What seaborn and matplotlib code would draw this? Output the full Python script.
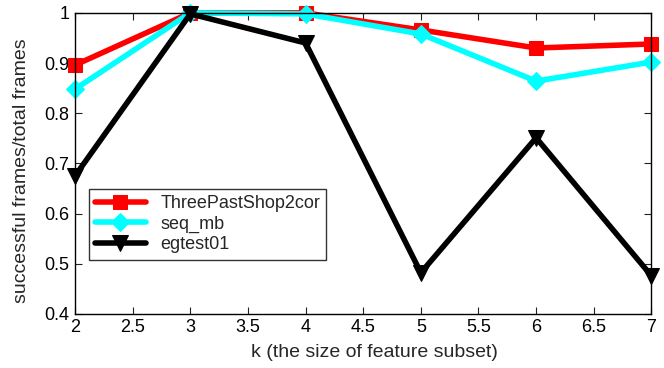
import matplotlib
matplotlib.use("Agg")
import matplotlib.pyplot as plt
import seaborn as sns
import pandas as pd

k = [2, 3, 4, 5, 6, 7]
three_past = [0.896, 1.0, 1.0, 0.966, 0.930, 0.938]
seq_mb = [0.848, 1.0, 0.998, 0.958, 0.864, 0.902]
egtest01 = [0.675, 0.998, 0.940, 0.482, 0.751, 0.476]
series_names = ["ThreePastShop2cor", "seq_mb", "egtest01"]

sns.set_style("white")
plt.rcParams['font.family'] = ['Liberation Sans', 'DejaVu Sans']

fig = plt.figure(figsize=(6.64, 3.68), dpi=100)
ax = fig.add_axes([0.113, 0.147, 0.868, 0.818])

styles = [("red", "s", 10), ("cyan", "D", 9), ("black", "v", 12)]
for name, vals, (c, m, ms) in zip(series_names, [three_past, seq_mb, egtest01], styles):
    df = pd.DataFrame({"k": k, "v": vals})
    sns.lineplot(data=df, x="k", y="v", ax=ax, color=c, marker=m, markersize=ms,
                 markeredgecolor=c, linewidth=4, label=name, clip_on=False)

ax.set_xlim(2, 7)
ax.set_ylim(0.4, 1.0)
ax.set_xticks([2, 2.5, 3, 3.5, 4, 4.5, 5, 5.5, 6, 6.5, 7])
ax.set_xticklabels(["2", "2.5", "3", "3.5", "4", "4.5", "5", "5.5", "6", "6.5", "7"])
ax.set_yticks([0.4, 0.5, 0.6, 0.7, 0.8, 0.9, 1.0])
ax.set_yticklabels(["0.4", "0.5", "0.6", "0.7", "0.8", "0.9", "1"])
ax.tick_params(direction="in", bottom=True, left=True, top=True, right=True,
               length=5, width=0.8, labelsize=13, colors="#222222",
               labelcolor="black", pad=4)
for s in ax.spines.values():
    s.set_color("black")
    s.set_linewidth(1.0)
ax.set_xlabel("k (the size of feature subset)", fontsize=14)
ax.set_ylabel("successful frames/total frames", fontsize=14)
ax.xaxis.set_label_coords(0.52, -0.1)
ax.yaxis.set_label_coords(-0.078, 0.475)

leg = ax.legend(loc="lower left", bbox_to_anchor=(0.024, 0.18), fontsize=13,
                frameon=True, fancybox=False, edgecolor="black", borderpad=0.35,
                handlelength=2.8, labelspacing=0.2, borderaxespad=0)
leg.get_frame().set_linewidth(1.0)

fig.savefig("out.png", dpi=100)
